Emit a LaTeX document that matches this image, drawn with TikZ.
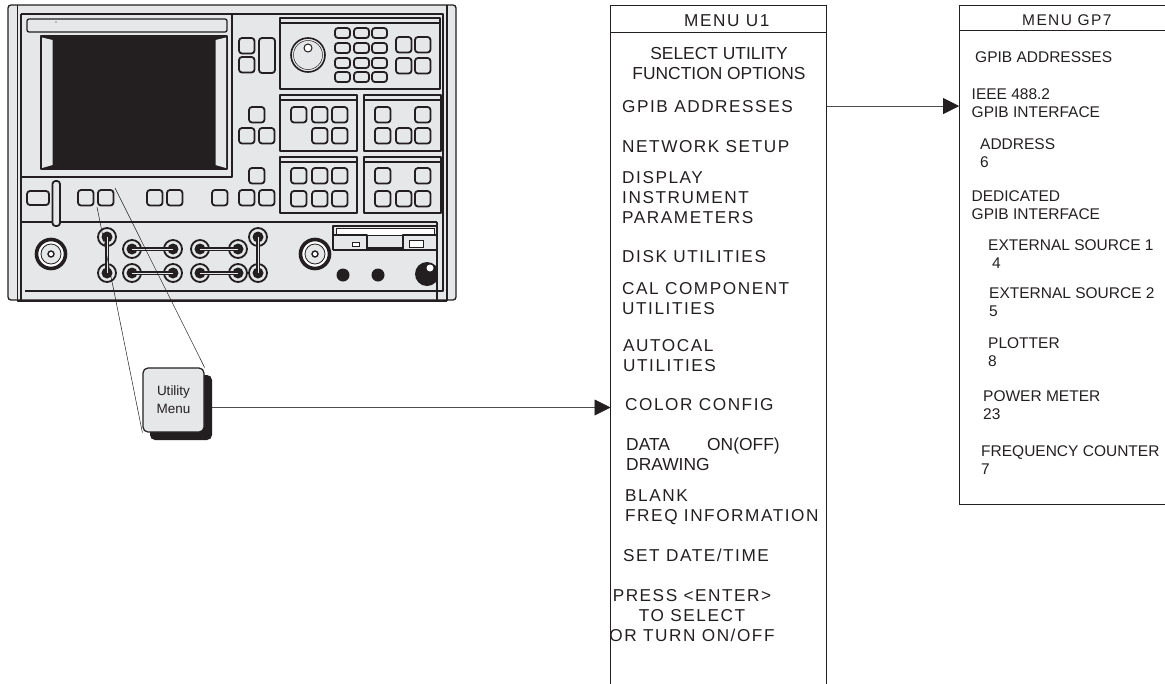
\documentclass[tikz,border=0pt]{standalone}
\usepackage{fontspec}
\setmainfont{Liberation Sans}
\newfontfamily\trackfont[LetterSpace=9]{Liberation Sans}
\usetikzlibrary{arrows.meta}
\definecolor{inkblack}{HTML}{231F20}
\definecolor{panelgray}{HTML}{E6E7E8}
\tikzset{
  outline/.style={draw=inkblack,line width=1.3pt,line join=round},
  panelbox/.style={outline,fill=panelgray},
  softkey/.style={outline,fill=panelgray,line width=1.8pt,rounded corners=3pt},
  port/.style={draw=inkblack,line width=1.8pt,fill=panelgray},
  leader/.style={draw=inkblack,line width=0.5pt},
  pointer/.style={draw=inkblack!80,line width=0.7pt,-{Triangle[length=16pt,width=16pt,color=inkblack]}},
  menuframe/.style={draw=inkblack,line width=1pt},
  menuitem/.style={anchor=base west,inner sep=0pt,align=left,text=inkblack,font=\trackfont\fontsize{17.2}{20}\selectfont},
  menuplain/.style={menuitem,font=\fontsize{17.4}{20}\selectfont},
  gpitem/.style={anchor=base west,inner sep=0pt,align=left,text=inkblack,font=\fontsize{15.5}{18}\selectfont},
}
\begin{document}
\begin{tikzpicture}[x=1pt,y=-1pt]
\useasboundingbox (0,0) rectangle (1165,683);

% instrument body
\draw[panelbox,rounded corners=3pt] (8,5) rectangle (456,300);
\draw[outline] (17.5,5) -- (17.5,301) -- (447,301);
\draw[outline] (447,5) -- (447,301);
\draw[outline] (21,14) -- (443,14) -- (443,291) -- (25,291);
\draw[outline] (21,14) -- (21,301);
\draw[outline] (21,177) -- (232,177) -- (232,14);
\draw[outline] (21,222) -- (437,222);
\draw[outline] (437,222) -- (437,301);
\draw[outline,rounded corners=2pt] (27,19) rectangle (227,32);
\fill[inkblack] (56,22) circle (0.7);

% screen
\draw[outline,fill=inkblack] (41,36) rectangle (227,169);
\fill[panelgray] (42,37.5) -- (52.5,40) -- (52.5,165) -- (42,168) -- cycle;
\fill[panelgray] (226,37.5) -- (215.5,40) -- (215.5,165) -- (226,168) -- cycle;

% panels on the right
\draw[outline,line width=1.6pt] (280,18) rectangle (440,89);
\draw[outline] (280,23) -- (440,23);
\foreach \px/\py in {280/95,364/95,280/157,364/157} {
  \draw[outline,line width=1.6pt] (\px,\py) rectangle +(77,56);
  \draw[outline] (\px,\py+5) -- +(77,0);
}
\draw[inkblack,line width=1.6pt] (308,55) circle (17);
\draw[inkblack,line width=0.5pt] (308,55) circle (14.5);
\draw[inkblack,line width=1pt,fill=white] (308,48) circle (4);

% keys
\foreach \kx/\ky in {335/28,354/28,372/28,335/43,354/43,372/43,335/58,354/58,372/58,335/72,354/72,372/72}
  \draw[softkey] (\kx,\ky) rectangle +(15,10);
\foreach \kx/\ky in {396/37,415/37,396/58,415/58,239/38,239/57,
  291/107,312/107,332/107,312/128,332/128,375/107,415/107,375/128,396/128,415/128,
  291/168,312/168,332/168,291/191,312/191,332/191,375/168,415/168,375/191,396/191,415/191,
  249/107,239/128,259/128,249/168,239/190,259/190,
  78/190,98/190,147/190,167/190,212/190}
  \draw[softkey] (\kx,\ky) rectangle +(15.5,15.5);
\draw[softkey] (259,38) rectangle (275,73);
\draw[softkey] (27,191) rectangle (49,205);
\draw[softkey] (52.5,181) rectangle (60,226);

% connectors
\foreach \cx in {51,315} {
  \draw[inkblack,line width=3.6pt,fill=white] (\cx,254) circle (14.5);
  \draw[inkblack,line width=0.8pt,fill=panelgray] (\cx,254) circle (10);
  \draw[inkblack,line width=1.4pt,fill=white] (\cx,254) circle (3);
}
\foreach \cx/\cy in {107/237,107/273,132/249,173/249,132/273,173/273,200/249,238/249,200/273,238/273,258/237,258/273} {
  \draw[port] (\cx,\cy) circle (9);
  \fill[inkblack] (\cx,\cy) circle (5.5);
}
\foreach \ax/\ay/\bx/\by in {107/237/107/273,132/249/173/249,132/273/173/273,200/249/238/249,200/273/238/273,258/237/258/273} {
  \draw[inkblack,line width=4pt] (\ax,\ay) -- (\bx,\by);
  \draw[panelgray,line width=1pt] (\ax,\ay) -- (\bx,\by);
}

% disk slot and front right controls
\draw[outline] (333,250) -- (333,226) -- (437,226);
\draw[outline] (333,250) -- (437,250);
\draw[inkblack,line width=0.8pt,fill=white] (336,228.5) rectangle (434,235);
\draw[outline] (333,235) -- (367,235) -- (367,250);
\draw[outline] (437,235) -- (403,235) -- (403,250);
\draw[inkblack,line width=2.4pt] (367,248) -- (403,248);
\draw[inkblack,line width=1pt,fill=white] (352,242) rectangle (359,246);
\draw[inkblack,line width=1pt,fill=white] (409,240) rectangle (423,247);
\fill[inkblack] (343,275) circle (6.5);
\fill[inkblack] (378,275) circle (6.5);
\begin{scope}
\clip (410,255) rectangle (437,290);
\fill[inkblack] (427,274) circle (12);
\fill[white] (430,268) circle (3.5);
\end{scope}

% leader lines and key
\coordinate (leaderlow) at (97,207);
\coordinate (leaderhigh) at (115,188);
\node (utilback) [minimum width=62pt,minimum height=65pt,fill=inkblack,rounded corners=5pt,inner sep=0pt] at (181,407.5) {};
\node (utilkey) [minimum width=61pt,minimum height=64pt,fill=panelgray,draw=inkblack,line width=1.2pt,rounded corners=5pt,inner sep=0pt,align=center,text=inkblack,font=\fontsize{13.5}{18}\selectfont] at (173.5,400) {Utility\\Menu};
\draw[leader] (leaderlow) -- (utilkey.south west);
\draw[leader] (leaderhigh) -- (utilkey.north east);

% menu U1
\node (menuu) [minimum width=216pt,minimum height=678pt,inner sep=0pt] at (718.7,344.5) {};
\coordinate (menuuhead) at (700,32);
\draw[menuframe] (menuu.south west) -- (menuu.north west) -- (menuu.north east) -- (menuu.south east);
\draw[menuframe] (menuu.west |- menuuhead) -- (menuu.east |- menuuhead);
\node (menuutitle) [menuitem] at (684,26) {MENU U1};
\node (selectfn) [menuplain,align=center,anchor=base] at (719,79) {SELECT UTILITY\\FUNCTION OPTIONS};
\node (gpibaddr) [menuitem] at (622,112) {GPIB ADDRESSES};
\node (netsetup) [menuitem] at (622,152) {NETWORK SETUP};
\node (dispparam) [menuitem] at (622,223) {DISPLAY\\INSTRUMENT\\PARAMETERS};
\node (diskutil) [menuitem] at (622,262) {DISK UTILITIES};
\node (calutil) [menuitem] at (622,314) {CAL COMPONENT\\UTILITIES};
\node (autocal) [menuitem] at (623,371) {AUTOCAL\\UTILITIES};
\node (colorcfg) [menuitem] at (625,410) {COLOR CONFIG};
\node (datadraw) [menuplain] at (626,470) {DATA\\DRAWING};
\node (dataon) [menuplain] at (707,450) {ON(OFF)};
\node (blankfreq) [menuitem] at (625,521) {BLANK\\FREQ INFORMATION};
\node (setdate) [menuitem] at (623,561) {SET DATE/TIME};
\node (pressenter) [menuitem,align=center,anchor=base] at (692,641) {PRESS <ENTER>\\TO SELECT\\OR TURN ON/OFF};

% menu GP7
\node (menugp) [minimum width=205.7pt,minimum height=498pt,inner sep=0pt] at (1062.2,255) {};
\coordinate (menugphead) at (1100,30);
\draw[menuframe] (menugp.north east) -- (menugp.north west) -- (menugp.south west) -- (menugp.south east);
\draw[menuframe] (menugp.west |- menugphead) -- (menugp.east |- menugphead);
\node (menugptitle) [gpitem,font=\trackfont\fontsize{15.5}{18}\selectfont] at (1022,25) {MENU GP7};
\node (gpibhead) [gpitem] at (975,62) {GPIB ADDRESSES};
\node (ieee) [gpitem] at (971.5,117) {IEEE 488.2\\GPIB INTERFACE};
\node (address) [gpitem] at (980,167) {ADDRESS\\6};
\node (dedicated) [gpitem] at (971.5,219) {DEDICATED\\GPIB INTERFACE};
\node (extone) [gpitem] at (988,268) {EXTERNAL SOURCE 1\\\hspace*{4pt}4};
\node (exttwo) [gpitem] at (989,316) {EXTERNAL SOURCE 2\\5};
\node (plotter) [gpitem] at (988,366) {PLOTTER\\8};
\node (powermeter) [gpitem] at (983,419) {POWER METER\\23};
\node (freqcount) [gpitem] at (981,474) {FREQUENCY COUNTER\\7};

\draw[pointer] (utilback.east) -- (utilback.east -| menuu.west);
\draw[pointer] (menuu.east |- gpibaddr) -- (menugp.west |- gpibaddr);
\end{tikzpicture}
\end{document}
